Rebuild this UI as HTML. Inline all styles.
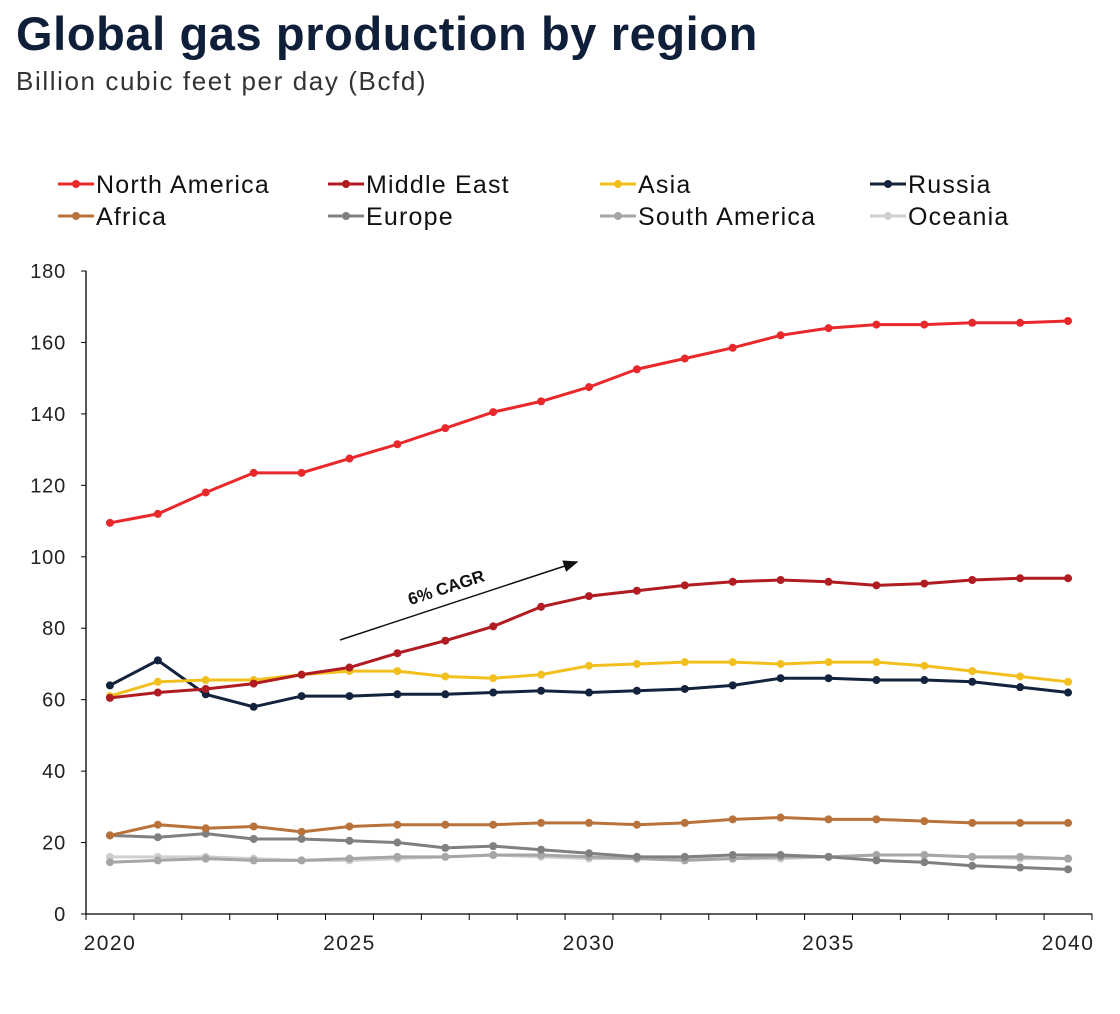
<!DOCTYPE html>
<html><head><meta charset="utf-8"><style>
body{margin:0;background:#fff;font-family:"Liberation Sans",sans-serif;}
#wrap{position:relative;width:1120px;height:1014px;overflow:hidden}
h1{position:absolute;left:16px;top:6px;margin:0;font-size:47px;font-weight:bold;color:#0f1f3a;letter-spacing:0.6px}
#sub{position:absolute;left:16px;top:66px;font-size:26px;color:#333;letter-spacing:1.6px}
</style></head><body>
<div id="wrap">
<h1>Global gas production by region</h1>
<div id="sub">Billion cubic feet per day (Bcfd)</div>
<svg id="chart" width="1120" height="1014" style="position:absolute;left:0;top:0"></svg>
</div>
<script>
const years=[2020,2021,2022,2023,2024,2025,2026,2027,2028,2029,2030,2031,2032,2033,2034,2035,2036,2037,2038,2039,2040];
const yTicks=[0,20,40,60,80,100,120,140,160,180];
const xLabels=["2020","2025","2030","2035","2040"];
const seriesNames=["North America","Middle East","Asia","Russia","Africa","Europe","South America","Oceania"];
const northAmerica=[109.5,112,118,123.5,123.5,127.5,131.5,136,140.5,143.5,147.5,152.5,155.5,158.5,162,164,165,165,165.5,165.5,166];
const middleEast=[60.5,62,63,64.5,67,69,73,76.5,80.5,86,89,90.5,92,93,93.5,93,92,92.5,93.5,94,94];
const asia=[61,65,65.5,65.5,67,68,68,66.5,66,67,69.5,70,70.5,70.5,70,70.5,70.5,69.5,68,66.5,65];
const russia=[64,71,61.5,58,61,61,61.5,61.5,62,62.5,62,62.5,63,64,66,66,65.5,65.5,65,63.5,62];
const africa=[22,25,24,24.5,23,24.5,25,25,25,25.5,25.5,25,25.5,26.5,27,26.5,26.5,26,25.5,25.5,25.5];
const europe=[22,21.5,22.5,21,21,20.5,20,18.5,19,18,17,16,16,16.5,16.5,16,15,14.5,13.5,13,12.5];
const southAmerica=[14.5,15,15.5,15,15,15.5,16,16,16.5,16.5,16,15.5,15,15.5,16,16,16.5,16.5,16,16,15.5];
const oceania=[16,16,16,15.5,15,15,15.5,16,16.5,16,15.5,15.5,15.5,15.5,15.5,16,16.5,16.5,16,15.5,15.5];
const colors=["#e8282b","#b01c22","#f2c01e","#13233d","#b8723a","#808080","#a6a6a6","#cfcfcf"];
const allSeries=[northAmerica,middleEast,asia,russia,africa,europe,southAmerica,oceania];

const svg=document.getElementById('chart');
const NS='http://www.w3.org/2000/svg';
const X0=86,X1=1092,Y0=914,Y180=271;
const band=(X1-X0)/years.length;
const xs=i=>X0+band*(i+0.5);
const ys=v=>Y0-(Y0-Y180)*v/180;
function mk(t,a){const e=document.createElementNS(NS,t);for(const k in a)e.setAttribute(k,a[k]);svg.appendChild(e);return e;}

let ax=mk('line',{x1:X0,y1:Y180,x2:X0,y2:Y0,stroke:'#000','stroke-width':1.3});


let bx=mk('line',{x1:X0,y1:Y0,x2:X1,y2:Y0,stroke:'#000','stroke-width':1.3});


yTicks.forEach(v=>{
  mk('line',{x1:X0-5,y1:ys(v),x2:X0,y2:ys(v),stroke:'#000'});
  const t=mk('text',{x:66,y:ys(v)+7,'text-anchor':'end','font-size':20,'letter-spacing':0.8,fill:'#222'});
  t.textContent=v;
  
  
});
for(let i=0;i<=years.length;i++){mk('line',{x1:X0+band*i,y1:Y0,x2:X0+band*i,y2:Y0+6,stroke:'#000'});}
xLabels.forEach(l=>{
  const i=years.indexOf(+l);
  const t=mk('text',{x:xs(i),y:950,'text-anchor':'middle','font-size':21,'letter-spacing':1.5,fill:'#222'});
  t.textContent=l;
  
  
});
for(let s=allSeries.length-1;s>=0;s--){
  const d=allSeries[s];
  const p=mk('polyline',{points:d.map((v,i)=>xs(i)+','+ys(v)).join(' '),fill:'none',stroke:colors[s],'stroke-width':3});
  
  
  d.forEach((v,i)=>{
    const c=mk('circle',{cx:xs(i),cy:ys(v),r:4,fill:colors[s]});
    
    
  });
}
const legX=[58,328,600,870];
seriesNames.forEach((n,i)=>{
  const x=legX[i%4],y=i<4?184:216;
  mk('line',{x1:x,y1:y,x2:x+36,y2:y,stroke:colors[i],'stroke-width':3});
  mk('circle',{cx:x+18,cy:y,r:4,fill:colors[i]});
  const t=mk('text',{x:x+38,y:y+9,'font-size':25,'letter-spacing':1.2,fill:'#111'});
  t.textContent=n;
  
  
});
mk('defs',{}).innerHTML='<marker id="ah" markerWidth="10" markerHeight="8" refX="9" refY="4" orient="auto"><path d="M0,0 L10,4 L0,8 z" fill="#111"/></marker>';
const ar=mk('line',{x1:340,y1:640,x2:577,y2:562,stroke:'#111','stroke-width':1.5,'marker-end':'url(#ah)'});


const at=mk('text',{x:448,y:593,'font-size':17,'font-weight':'bold',fill:'#111','text-anchor':'middle',transform:'rotate(-18 448 593)'});
at.textContent='6% CAGR';


</script>
</body></html>
